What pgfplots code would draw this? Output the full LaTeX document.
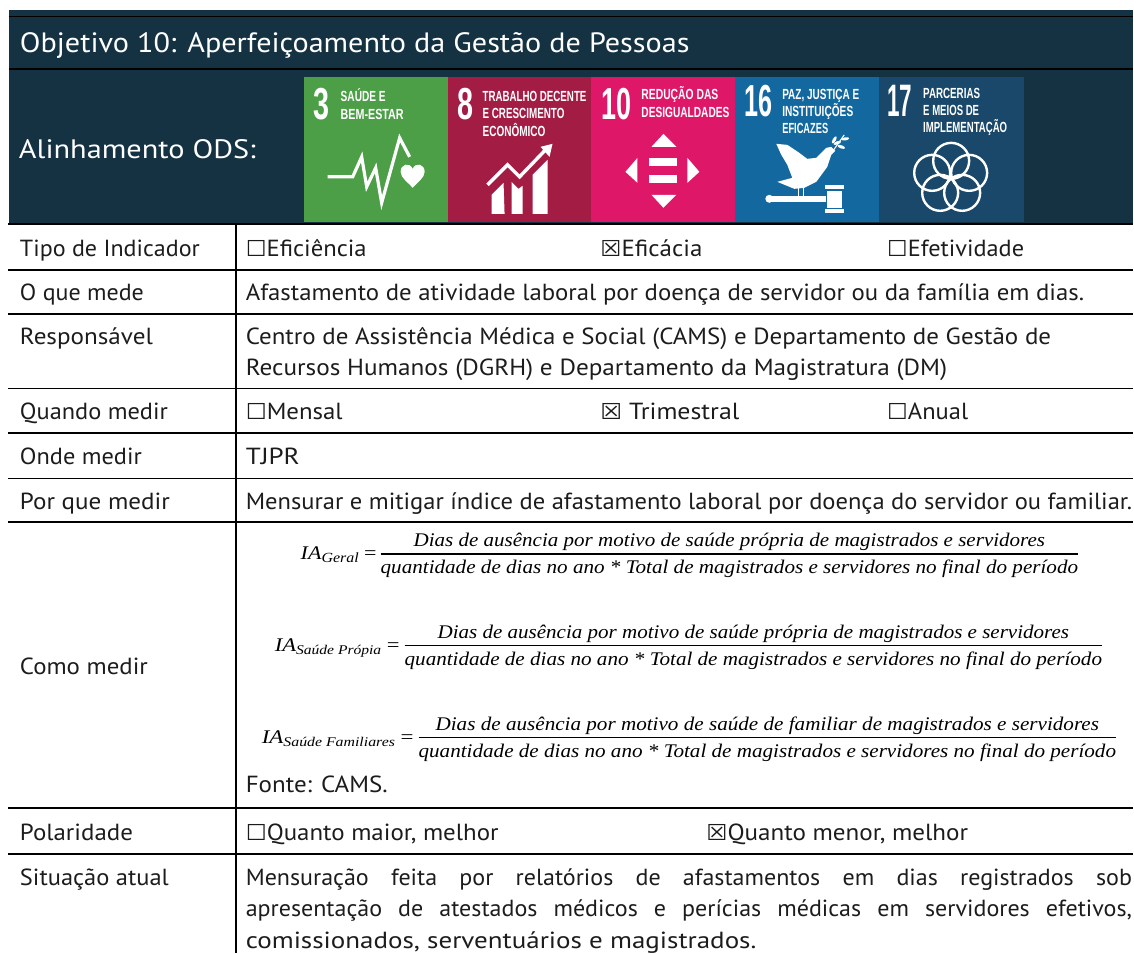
\documentclass[border=0pt]{standalone}
\usepackage{graphicx}
\usepackage{fontspec}
\usepackage{pgfplots}
\pgfplotsset{compat=1.18}
\setmainfont{PT Sans}
\newfontfamily\symf{DejaVu Sans}
\newfontfamily\mathf{Liberation Serif}
\newfontfamily\sdgf{Liberation Sans}
\definecolor{band}{HTML}{153243}
\definecolor{ink}{HTML}{1C1C1C}
\definecolor{sA}{HTML}{4C9F47}
\definecolor{sB}{HTML}{A21C44}
\definecolor{sC}{HTML}{DE1768}
\definecolor{sD}{HTML}{13699F}
\definecolor{sE}{HTML}{19486A}
\newcommand{\bx}{{\symf\fontsize{16.5}{18}\selectfont\char"2610}}
\newcommand{\xx}{{\symf\fontsize{16.5}{18}\selectfont\char"2612}}
\newcommand{\TT}[4]{%
  \node[anchor=base west,inner sep=0pt,outer sep=0pt,text=ink] at (#1,#2)
   {\pgfmathsetlengthmacro{\mywd}{(#3-#1)*0.75pt}\resizebox{\mywd}{\height}{\fontsize{17.5}{19}\selectfont #4}};}
\newcommand{\JJ}[4]{%
  \node[anchor=base west,inner sep=0pt,outer sep=0pt,text=ink] at (#1,#2)
   {\pgfmathsetlengthmacro{\mywd}{(#3-#1)*0.75pt/1.03}\scalebox{1.03}[1]{\fontsize{17.5}{19}\selectfont\spaceskip=0.28em plus 2em minus 0.1em\hbox to \mywd{#4}}};}
\newcommand{\WW}[5]{%
  \node[anchor=base west,inner sep=0pt,outer sep=0pt,text=white] at (#1,#2)
   {\pgfmathsetlengthmacro{\mywd}{(#3-#1)*0.75pt}\resizebox{\mywd}{\height}{\fontsize{#4}{#4}\selectfont #5}};}
\newcommand{\SL}[4]{%
  \node[anchor=base west,inner sep=0pt,outer sep=0pt,text=white] at (#1,#2)
   {\pgfmathsetlengthmacro{\mywd}{(#3-#1)*0.75pt}\resizebox{\mywd}{\height}{\sdgf\bfseries\fontsize{11}{11}\selectfont #4}};}
\newcommand{\NN}[4]{%
  \node[anchor=base west,inner sep=0pt,outer sep=0pt,text=white] at (#1,#2)
   {\pgfmathsetlengthmacro{\mywd}{(#3-#1)*0.75pt}\resizebox{\mywd}{23.5pt}{\sdgf\bfseries\fontsize{30}{30}\selectfont #4}};}
\newcommand{\MM}[4]{%
  \node[anchor=base west,inner sep=0pt,outer sep=0pt,text=black] at (#1,#2)
   {\pgfmathsetlengthmacro{\mywd}{(#3-#1)*0.75pt}\resizebox{\mywd}{\height}{\mathf\itshape\fontsize{14.5}{16}\selectfont #4}};}
\begin{document}
\begin{tikzpicture}
\begin{axis}[scale only axis,width=850.5pt,height=715.5pt,xmin=0,xmax=1134,ymin=0,ymax=954,
  y dir=reverse,hide axis,clip=false]
\path (0,0) rectangle (1134,954);
% header band
\fill[band] (9,10) rectangle (1134,224);
\draw[black,line width=1.3pt] (9,16.5)--(1134,16.5);
\draw[black,line width=1.3pt] (9,69)--(1134,69);
\WW{20}{53}{690}{21}{Objetivo 10: Aperfeiçoamento da Gestão de Pessoas}
\WW{19}{159}{256}{20}{Alinhamento ODS:}
% tiles
\fill[sA] (304,77) rectangle (448,222);
\fill[sB] (448,77) rectangle (592,222);
\fill[sC] (592,77) rectangle (736,222);
\fill[sD] (736,77) rectangle (880,222);
\fill[sE] (880,77) rectangle (1025,222);
% tile 3
\NN{314}{120}{330}{3}
\SL{341}{102}{386}{SAÚDE E}
\SL{341}{120}{404}{BEM-ESTAR}
\draw[white,line width=2.4pt,line join=miter] (328,177)--(353,177)--(362,157)--(367,187)--(376,168)--(382,203)--(400,138)--(410,157);
\fill[white] (413,188) .. controls (408,182) and (401,178) .. (401,172) .. controls (401,164) and (410,162) .. (413,169) .. controls (416,162) and (425,164) .. (425,172) .. controls (425,178) and (418,182) .. (413,188) -- cycle;
% tile 8
\NN{458}{120}{474}{8}
\SL{483}{102}{587}{TRABALHO DECENTE}
\SL{483}{119}{565}{E CRESCIMENTO}
\SL{483}{137}{546}{ECONÔMICO}
\draw[white,line width=2.6pt] (488,185)--(508,165)--(520,177)--(545,151);
\fill[white] (553,144)--(541,147)--(550,157)--cycle;
\fill[white] (492,214)--(492,195)--(504,183)--(505,214)--cycle;
\fill[white] (512,214)--(512,182)--(519,189)--(523,186)--(523,214)--cycle;
\fill[white] (533,214)--(533,175)--(548,160)--(548,214)--cycle;
% tile 10
\NN{602}{120}{632}{10}
\SL{642}{100}{719}{REDUÇÃO DAS}
\SL{642}{118}{730}{DESIGUALDADES}
\fill[white] (664,134)--(652,147)--(677,147)--cycle;
\fill[white] (626,172)--(638,158)--(638,183)--cycle;
\fill[white] (700,172)--(688,158)--(688,183)--cycle;
\fill[white] (664,208)--(652,195)--(677,195)--cycle;
\fill[white] (650,158) rectangle (678,166);
\fill[white] (650,175) rectangle (678,183);
% tile 16
\NN{745}{117}{773}{16}
\SL{783}{100}{860}{PAZ, JUSTIÇA E}
\SL{783}{117}{854}{INSTITUIÇÕES}
\SL{783}{134}{829}{EFICAZES}
\fill[white] (777,144)--(788,145)--(800,153)--(808,159)--(817,158)--(827,148)--(832,147)--(836,151)--(832,155)--(828,167)--(817,182)--(805,188)--(795,189)--(778,182)--(793,178)--(788,165)--(782,155)--cycle;
\draw[white,line width=1pt] (799,188)--(799,198) (804,188)--(804,198);
\draw[white,line width=.8pt] (833,152)--(845,135);
\fill[white] (838,143) ellipse [x radius=3pt,y radius=1.2pt,rotate=20];
\fill[white] (842,147) ellipse [x radius=3pt,y radius=1.2pt,rotate=-20];
\fill[white] (835,140) ellipse [x radius=3pt,y radius=1.2pt,rotate=60];
\fill[white] (846,139) ellipse [x radius=3pt,y radius=1.2pt,rotate=10];
\fill[white] (768,196) rectangle (827,202);
\fill[white] (770,199) circle [radius=3pt];
\fill[white] (826,185) rectangle (845,189);
\fill[white] (828,191) rectangle (843,208);
\fill[white] (826,209) rectangle (845,213);
% tile 17
\NN{888}{117}{913}{17}
\SL{924}{99}{981}{PARCERIAS}
\SL{924}{116}{980}{E MEIOS DE}
\SL{924}{133}{1008}{IMPLEMENTAÇÃO}
\draw[white,line width=1.8pt] (952,161) circle [radius=13.5pt];
\draw[white,line width=1.8pt] (933,173) circle [radius=13.5pt];
\draw[white,line width=1.8pt] (970,173) circle [radius=13.5pt];
\draw[white,line width=1.8pt] (941,193) circle [radius=13.5pt];
\draw[white,line width=1.8pt] (963,193) circle [radius=13.5pt];
% table rules
\draw[black,line width=1.5pt] (8,224.5)--(1134,224.5);
\draw[black,line width=1.2pt] (8,270)--(1134,270);
\draw[black,line width=1.2pt] (8,314)--(1134,314);
\draw[black,line width=1.2pt] (8,389)--(1134,389);
\draw[black,line width=1.2pt] (8,433.5)--(1134,433.5);
\draw[black,line width=1.2pt] (8,479)--(1134,479);
\draw[black,line width=1.2pt] (8,522.5)--(1134,522.5);
\draw[black,line width=1.2pt] (8,809)--(1134,809);
\draw[black,line width=1.2pt] (8,855)--(1134,855);
\draw[black,line width=1.2pt] (236,224)--(236,954);
% left column
\TT{20}{257}{200}{Tipo de Indicador}
\TT{20}{301}{144}{O que mede}
\TT{20}{345}{153}{Responsável}
\TT{20}{420}{168}{Quando medir}
\TT{20}{465}{142}{Onde medir}
\TT{20}{510}{170}{Por que medir}
\TT{20}{675}{148}{Como medir}
\TT{20}{841}{133}{Polaridade}
\TT{20}{886}{169}{Situação atual}
% right column
\TT{246}{257}{367}{\bx Eficiência}
\TT{601}{257}{703}{\xx Eficácia}
\TT{888}{257}{1025}{\bx Efetividade}
\TT{246}{301}{1085}{Afastamento de atividade laboral por doença de servidor ou da família em dias.}
\TT{246}{345}{1052}{Centro de Assistência Médica e Social (CAMS) e Departamento de Gestão de}
\TT{246}{376}{948}{Recursos Humanos (DGRH) e Departamento da Magistratura (DM)}
\TT{246}{420}{343}{\bx Mensal}
\TT{601}{420}{740}{\xx{} Trimestral}
\TT{888}{420}{969}{\bx Anual}
\TT{246}{465}{300}{TJPR}
\TT{246}{510}{1133}{Mensurar e mitigar índice de afastamento laboral por doença do servidor ou familiar.}
% formulas
\MM{414}{547}{1046}{Dias de ausência por motivo de saúde própria de magistrados e servidores}
\MM{381}{574}{1079}{quantidade de dias no ano * Total de magistrados e servidores no final do período}
\draw[black,line width=.8pt] (381,554.5)--(1079,554.5);
\MM{301}{560}{377}{IA\raisebox{-2.5pt}{\fontsize{10.5}{11}\selectfont Geral}\upshape\ =}
\MM{438}{639}{1070}{Dias de ausência por motivo de saúde própria de magistrados e servidores}
\MM{405}{666}{1103}{quantidade de dias no ano * Total de magistrados e servidores no final do período}
\draw[black,line width=.8pt] (405,646.5)--(1103,646.5);
\MM{275}{652}{400}{IA\raisebox{-2.5pt}{\fontsize{10}{11}\selectfont Saúde Própia}\upshape\ =}
\MM{436}{731}{1100}{Dias de ausência por motivo de saúde de familiar de magistrados e servidores}
\MM{419}{758}{1117}{quantidade de dias no ano * Total de magistrados e servidores no final do período}
\draw[black,line width=.8pt] (419,738.5)--(1117,738.5);
\MM{262}{744}{414}{IA\raisebox{-2.5pt}{\fontsize{10}{11}\selectfont Saúde Familiares}\upshape\ =}
\TT{246}{793}{388}{Fonte: CAMS.}
\TT{246}{841}{499}{\bx Quanto maior, melhor}
\TT{707}{841}{969}{\xx Quanto menor, melhor}
\JJ{246}{886}{1133}{Mensuração feita por relatórios de afastamentos em dias registrados sob}
\JJ{246}{917}{1133}{apresentação de atestados médicos e perícias médicas em servidores efetivos,}
\TT{246}{949}{757}{comissionados, serventuários e magistrados.}
\end{axis}
\end{tikzpicture}
\end{document}
